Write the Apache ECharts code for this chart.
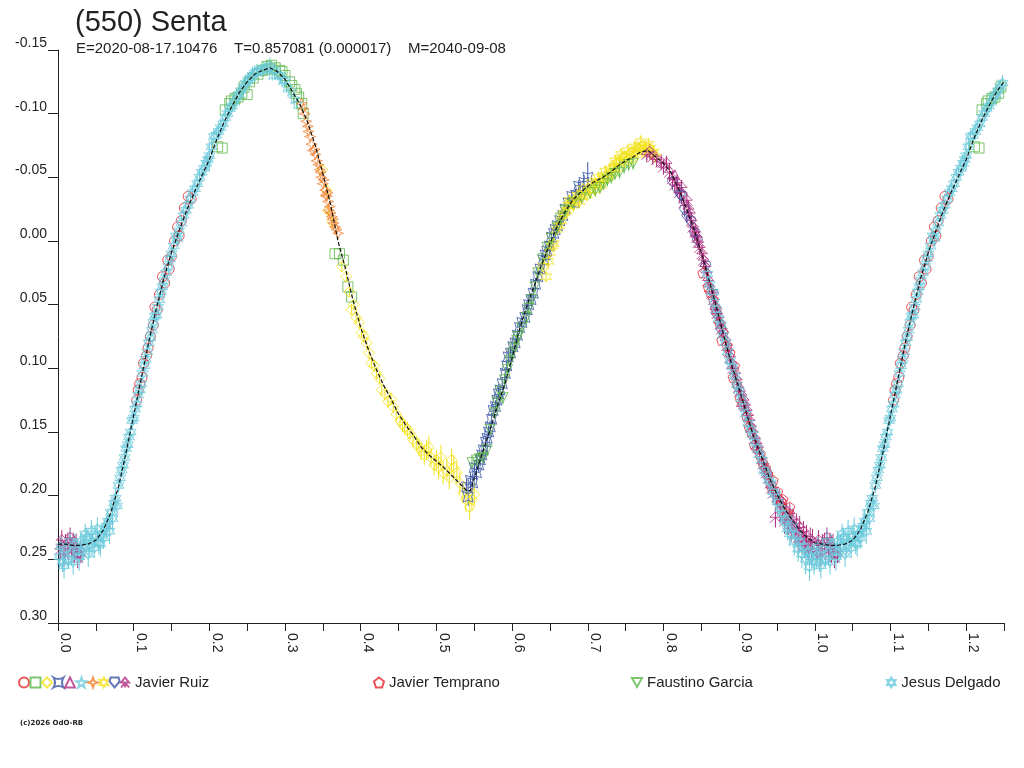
<!DOCTYPE html>
<html>
<head>
<meta charset="utf-8">
<script src="https://cdn.jsdelivr.net/npm/echarts@6/dist/echarts.min.js"></script>
<style>html,body{margin:0;padding:0;background:#fff;}#c{width:1024px;height:768px;}</style>
</head>
<body>
<div id="c"></div>
<script>
// ---- data (phase, magnitude, error) ----
var titleText = '(550) Senta';
var subText = 'E=2020-08-17.10476    T=0.857081 (0.000017)    M=2040-09-08';
var xTicks = [0.0,0.1,0.2,0.3,0.4,0.5,0.6,0.7,0.8,0.9,1.0,1.1,1.2];

var fitCurve = [
[0.00,0.238],[0.01,0.238],[0.02,0.239],[0.03,0.239],[0.04,0.238],[0.05,0.235],[0.06,0.227],[0.07,0.213],[0.08,0.193],[0.09,0.166],
[0.10,0.137],[0.11,0.108],[0.12,0.079],[0.13,0.053],[0.14,0.029],[0.15,0.009],[0.16,-0.008],[0.17,-0.024],[0.18,-0.038],[0.19,-0.051],
[0.20,-0.064],[0.21,-0.080],[0.22,-0.094],[0.23,-0.106],[0.24,-0.117],[0.25,-0.125],[0.26,-0.131],[0.27,-0.134],[0.28,-0.136],[0.29,-0.133],
[0.30,-0.127],[0.31,-0.117],[0.32,-0.107],[0.33,-0.093],[0.34,-0.075],[0.35,-0.053],[0.36,-0.029],[0.37,0.000],[0.38,0.022],[0.39,0.047],
[0.40,0.068],[0.41,0.085],[0.42,0.100],[0.43,0.113],[0.44,0.124],[0.45,0.136],[0.46,0.145],[0.47,0.153],[0.48,0.162],[0.49,0.168],
[0.50,0.173],[0.51,0.178],[0.52,0.184],[0.53,0.190],[0.54,0.196],[0.545,0.196],[0.55,0.186],[0.56,0.168],[0.57,0.150],[0.58,0.131],[0.59,0.113],
[0.60,0.092],[0.61,0.069],[0.62,0.050],[0.63,0.034],[0.64,0.017],[0.65,0.002],[0.66,-0.012],[0.67,-0.023],[0.68,-0.032],[0.69,-0.038],
[0.70,-0.043],[0.71,-0.047],[0.72,-0.050],[0.73,-0.054],[0.74,-0.059],[0.75,-0.063],[0.76,-0.066],[0.77,-0.070],[0.78,-0.071],[0.79,-0.066],
[0.80,-0.061],[0.81,-0.054],[0.82,-0.041],[0.83,-0.026],[0.84,-0.010],[0.85,0.009],[0.86,0.030],[0.87,0.052],[0.88,0.075],[0.89,0.097],
[0.90,0.116],[0.91,0.136],[0.92,0.155],[0.93,0.170],[0.94,0.186],[0.95,0.199],[0.96,0.210],[0.97,0.219],[0.98,0.227],[0.99,0.233],[1.00,0.237]
];

var jrRed = [[0.104,0.125],[0.106,0.117],[0.108,0.112],[0.111,0.107],[0.113,0.096],[0.117,0.090],[0.119,0.084],[0.122,0.075],[0.126,0.066],
[0.128,0.052],[0.131,0.054],[0.134,0.042],[0.138,0.028],[0.141,0.033],[0.145,0.015],[0.147,0.022],[0.150,0.012],[0.154,0.000],[0.158,-0.011],
[0.160,-0.004],[0.163,-0.016],[0.167,-0.026],[0.172,-0.035],[0.176,-0.033]];

var jrGreen = [[0.211,-0.074],[0.217,-0.073],[0.221,-0.103],[0.227,-0.108],[0.229,-0.110],[0.234,-0.112],[0.238,-0.113],[0.243,-0.116],
[0.246,-0.121],[0.250,-0.115],[0.253,-0.125],[0.258,-0.128],[0.264,-0.131],[0.270,-0.134],[0.276,-0.137],[0.279,-0.135],[0.282,-0.138],
[0.287,-0.136],[0.293,-0.134],[0.296,-0.133],[0.300,-0.130],[0.306,-0.125],[0.309,-0.122],[0.313,-0.119],[0.315,-0.116],[0.318,-0.113],
[0.322,-0.108],[0.324,-0.100],[0.366,0.010],[0.372,0.010],[0.377,0.015],[0.383,0.036],[0.388,0.044]];

var jrYellowDiamond = [[0.349,-0.056,0.004],[0.355,-0.040,0.004],[0.357,-0.024,0.004],[0.362,-0.015,0.004],[0.375,0.020,0.004],[0.381,0.028,0.004],
[0.385,0.040,0.004],[0.388,0.054,0.004],[0.391,0.050,0.004],[0.394,0.060,0.005],[0.398,0.064,0.005],[0.401,0.072,0.004],[0.404,0.075,0.005],
[0.408,0.080,0.005],[0.411,0.088,0.005],[0.414,0.096,0.004],[0.418,0.098,0.005],[0.421,0.104,0.005],[0.425,0.108,0.005],[0.428,0.117,0.005],
[0.432,0.120,0.005],[0.436,0.126,0.005],[0.440,0.124,0.005],[0.443,0.130,0.005],[0.447,0.136,0.006],[0.452,0.141,0.005],[0.455,0.144,0.006],
[0.458,0.146,0.006],[0.462,0.148,0.006],[0.465,0.151,0.006],[0.469,0.156,0.006],[0.474,0.159,0.006],[0.477,0.162,0.007],[0.480,0.165,0.007],
[0.484,0.168,0.008],[0.487,0.164,0.008],[0.490,0.162,0.009],[0.493,0.170,0.007],[0.497,0.176,0.008],[0.500,0.172,0.008],[0.503,0.178,0.009],
[0.506,0.170,0.010],[0.509,0.182,0.009],[0.514,0.180,0.008],[0.517,0.186,0.009],[0.520,0.172,0.009],[0.523,0.178,0.010],[0.527,0.182,0.009],
[0.531,0.190,0.009],[0.535,0.198,0.008],[0.539,0.203,0.010],[0.544,0.209,0.010],[0.547,0.203,0.009],[0.550,0.199,0.009]];

var jrBlue = [[0.540,0.193,0.006],[0.542,0.201,0.007],[0.545,0.188,0.006],[0.548,0.190,0.006],[0.550,0.178,0.006],[0.553,0.182,0.006],
[0.556,0.176,0.005],[0.558,0.172,0.005],[0.560,0.168,0.005],[0.562,0.164,0.005],[0.565,0.158,0.005],[0.567,0.155,0.005],[0.569,0.150,0.005],
[0.571,0.146,0.005],[0.573,0.140,0.005],[0.575,0.133,0.005],[0.578,0.130,0.005],[0.580,0.125,0.005],[0.582,0.120,0.005],[0.584,0.117,0.005],
[0.587,0.112,0.005],[0.591,0.104,0.005],[0.593,0.098,0.005],[0.595,0.091,0.005],[0.598,0.088,0.005],[0.601,0.083,0.005],[0.604,0.080,0.005],
[0.607,0.074,0.005],[0.610,0.068,0.005],[0.613,0.064,0.005],[0.617,0.060,0.005],[0.620,0.054,0.005],[0.622,0.050,0.005],[0.625,0.046,0.005],
[0.628,0.041,0.005],[0.631,0.034,0.005],[0.634,0.028,0.005],[0.637,0.022,0.005],[0.641,0.015,0.005],[0.644,0.011,0.005],[0.646,0.008,0.005],
[0.649,0.004,0.005],[0.652,-0.003,0.005],[0.655,-0.006,0.005],[0.657,-0.009,0.005],[0.660,-0.012,0.005],[0.663,-0.016,0.005],[0.667,-0.020,0.005],
[0.670,-0.025,0.005],[0.674,-0.030,0.005],[0.679,-0.035,0.005],[0.682,-0.030,0.005],[0.684,-0.036,0.005],[0.688,-0.043,0.005],[0.690,-0.040,0.005],
[0.695,-0.046,0.006],[0.700,-0.050,0.012]];

var jrPurpleTri = [[0.815,-0.052],[0.842,-0.008],[0.868,0.050],[0.903,0.126],[0.938,0.180],[0.960,0.215]];

var jrCyanStar = [[0.283,-0.131,0.005],[0.290,-0.131,0.005],[0.296,-0.127,0.005],[0.302,-0.121,0.005],[0.308,-0.118,0.005],[0.312,-0.112,0.005],[0.316,-0.108,0.005]];

var jrOrange = [[0.322,-0.108],[0.324,-0.104],[0.326,-0.100],[0.328,-0.094],[0.330,-0.090],[0.331,-0.086],[0.333,-0.082],[0.335,-0.076],
[0.337,-0.071],[0.339,-0.072],[0.340,-0.068],[0.342,-0.063],[0.344,-0.060],[0.346,-0.056],[0.347,-0.054],[0.348,-0.050],[0.350,-0.045],
[0.351,-0.048],[0.353,-0.040],[0.354,-0.036],[0.355,-0.035],[0.356,-0.038],[0.357,-0.031],[0.358,-0.024],[0.359,-0.027],[0.360,-0.022],
[0.362,-0.019],[0.363,-0.017],[0.364,-0.014],[0.366,-0.011],[0.368,-0.009],[0.370,-0.006]];

var jrYellowStar = [[0.641,0.020,0.004],[0.645,0.028,0.004],[0.648,0.016,0.005],[0.650,0.009,0.004],[0.653,0.004,0.004],[0.655,0.002,0.004],
[0.659,-0.009,0.004],[0.662,-0.012,0.005],[0.665,-0.016,0.004],[0.667,-0.020,0.004],[0.669,-0.022,0.004],[0.672,-0.024,0.005],[0.674,-0.028,0.005],
[0.676,-0.032,0.004],[0.678,-0.030,0.004],[0.681,-0.028,0.005],[0.683,-0.032,0.005],[0.686,-0.036,0.004],[0.689,-0.031,0.005],[0.691,-0.035,0.004],
[0.694,-0.041,0.004],[0.696,-0.038,0.005],[0.699,-0.036,0.005],[0.702,-0.040,0.004],[0.705,-0.046,0.004],[0.707,-0.043,0.005],[0.709,-0.040,0.005],
[0.711,-0.045,0.004],[0.714,-0.050,0.004],[0.716,-0.047,0.005],[0.718,-0.044,0.005],[0.720,-0.049,0.004],[0.723,-0.055,0.004],[0.725,-0.052,0.005],
[0.727,-0.050,0.005],[0.729,-0.056,0.004],[0.732,-0.053,0.004],[0.734,-0.058,0.005],[0.736,-0.063,0.005],[0.738,-0.061,0.004],[0.740,-0.057,0.004],
[0.742,-0.063,0.005],[0.744,-0.068,0.005],[0.746,-0.066,0.004],[0.749,-0.062,0.004],[0.751,-0.066,0.005],[0.753,-0.071,0.005],[0.755,-0.068,0.004],
[0.758,-0.064,0.004],[0.760,-0.070,0.005],[0.762,-0.074,0.005],[0.764,-0.071,0.004],[0.766,-0.068,0.004],[0.768,-0.073,0.005],[0.770,-0.078,0.005],
[0.772,-0.075,0.004],[0.775,-0.070,0.004],[0.777,-0.073,0.005],[0.780,-0.076,0.005],[0.782,-0.073,0.004],[0.785,-0.069,0.005],[0.787,-0.070,0.004],
[0.789,-0.066,0.004]];

var jrBlueHex = [[0.812,-0.046,0.005],[0.818,-0.040,0.005],[0.822,-0.036,0.005],[0.824,-0.035,0.006],[0.828,-0.024,0.005],[0.831,-0.019,0.005],
[0.836,-0.015,0.005],[0.841,-0.006,0.005],[0.845,0.000,0.005],[0.856,0.020,0.005],[0.866,0.042,0.005],[0.870,0.058,0.005],[0.876,0.070,0.005]];

var jrPurple = [[0.003,0.242,0.009],[0.005,0.235,0.008],[0.008,0.246,0.010],[0.010,0.239,0.009],[0.013,0.237,0.008],[0.016,0.233,0.008],
[0.018,0.242,0.009],[0.020,0.238,0.009],[0.022,0.245,0.008],[0.024,0.240,0.010],[0.026,0.248,0.009],[0.030,0.244,0.009],
[0.778,-0.068,0.006],[0.782,-0.070,0.006],[0.786,-0.066,0.006],[0.791,-0.064,0.006],[0.797,-0.062,0.006],[0.800,-0.058,0.006],[0.804,-0.061,0.006],
[0.808,-0.054,0.007],[0.812,-0.049,0.006],[0.815,-0.044,0.006],[0.818,-0.046,0.006],[0.821,-0.038,0.007],[0.824,-0.042,0.006],[0.827,-0.030,0.006],
[0.831,-0.032,0.006],[0.833,-0.025,0.007],[0.835,-0.022,0.006],[0.837,-0.016,0.006],[0.839,-0.011,0.006],[0.842,-0.007,0.007],[0.844,-0.003,0.006],
[0.846,0.001,0.006],[0.848,0.005,0.006],[0.851,0.010,0.007],[0.853,0.015,0.006],[0.855,0.020,0.006],[0.857,0.025,0.006],[0.859,0.031,0.007],
[0.861,0.036,0.006],[0.864,0.041,0.006],[0.866,0.046,0.007],[0.869,0.052,0.007],[0.871,0.057,0.006],[0.873,0.060,0.006],[0.875,0.065,0.007],
[0.877,0.069,0.007],[0.879,0.072,0.006],[0.882,0.078,0.006],[0.884,0.082,0.007],[0.886,0.086,0.007],[0.888,0.091,0.006],[0.890,0.096,0.006],
[0.892,0.100,0.007],[0.895,0.104,0.007],[0.897,0.109,0.006],[0.899,0.115,0.006],[0.901,0.118,0.007],[0.903,0.121,0.007],[0.906,0.125,0.006],
[0.908,0.129,0.006],[0.910,0.133,0.007],[0.912,0.137,0.007],[0.914,0.141,0.006],[0.916,0.146,0.006],[0.918,0.150,0.007],[0.921,0.155,0.007],
[0.923,0.159,0.007],[0.925,0.162,0.006],[0.927,0.166,0.007],[0.930,0.171,0.007],[0.932,0.175,0.007],[0.934,0.179,0.006],[0.936,0.182,0.008],
[0.939,0.186,0.007],[0.941,0.190,0.007],[0.943,0.194,0.006],[0.945,0.198,0.008],[0.948,0.217,0.008],[0.950,0.201,0.008],[0.953,0.203,0.008],
[0.955,0.207,0.008],[0.958,0.209,0.008],[0.960,0.220,0.010],[0.962,0.212,0.009],[0.965,0.222,0.009],[0.967,0.214,0.008],[0.969,0.226,0.010],
[0.971,0.219,0.009],[0.974,0.229,0.009],[0.976,0.222,0.008],[0.978,0.233,0.010],[0.980,0.225,0.009],[0.983,0.236,0.009],[0.985,0.228,0.008],
[0.987,0.239,0.010],[0.989,0.232,0.009],[0.992,0.242,0.009],[0.994,0.234,0.009],[0.996,0.244,0.010],[0.997,0.236,0.010]];

var jtRed = [[0.852,0.025],[0.859,0.036],[0.862,0.040],[0.866,0.046],[0.870,0.054],[0.874,0.064],[0.877,0.078],[0.879,0.072],[0.884,0.082],
[0.888,0.088],[0.892,0.107],[0.894,0.098],[0.897,0.112],[0.901,0.123],[0.905,0.128],[0.910,0.138],[0.913,0.146],[0.916,0.150],[0.920,0.160],
[0.924,0.163],[0.928,0.168],[0.931,0.174],[0.935,0.178],[0.938,0.183],[0.942,0.192],[0.945,0.188],[0.951,0.197],[0.955,0.204],[0.958,0.203],
[0.963,0.214],[0.967,0.209]];

var fgGreen = [[0.547,0.174,0.005],[0.553,0.172,0.005],[0.557,0.171,0.005],[0.562,0.170,0.005],[0.567,0.164,0.005],[0.571,0.148,0.005],
[0.577,0.135,0.005],[0.580,0.127,0.005],[0.584,0.118,0.005],[0.588,0.123,0.005],[0.590,0.109,0.005],[0.594,0.101,0.005],[0.597,0.094,0.005],
[0.600,0.088,0.005],[0.603,0.084,0.005],[0.606,0.078,0.005],[0.608,0.075,0.005],[0.613,0.068,0.005],[0.619,0.060,0.005],[0.622,0.053,0.005],
[0.626,0.046,0.005],[0.630,0.036,0.005],[0.634,0.025,0.005],[0.640,0.014,0.005],[0.646,0.005,0.005],[0.652,-0.002,0.005],[0.659,-0.011,0.005],
[0.664,-0.018,0.005],[0.670,-0.024,0.005],[0.680,-0.030,0.005],[0.692,-0.034,0.005],[0.703,-0.038,0.005],[0.710,-0.040,0.005],[0.716,-0.042,0.005],
[0.721,-0.045,0.005],[0.726,-0.048,0.005],[0.731,-0.050,0.005],[0.736,-0.053,0.005],[0.742,-0.054,0.005],[0.748,-0.058,0.005],[0.754,-0.060,0.005],
[0.760,-0.061,0.005]];

var jdCyan = [[0.002,0.248,0.010],[0.004,0.240,0.008],[0.006,0.252,0.008],[0.008,0.255,0.010],[0.010,0.242,0.009],[0.014,0.250,0.007],
[0.016,0.236,0.009],[0.018,0.245,0.010],[0.020,0.252,0.010],[0.022,0.238,0.008],[0.026,0.243,0.009],[0.028,0.248,0.011],[0.030,0.236,0.007],
[0.032,0.244,0.009],[0.034,0.240,0.010],[0.036,0.230,0.008],[0.038,0.233,0.008],[0.040,0.246,0.010],[0.042,0.239,0.009],[0.044,0.228,0.009],
[0.046,0.236,0.007],[0.048,0.241,0.008],[0.050,0.232,0.008],[0.052,0.226,0.009],[0.054,0.237,0.009],[0.056,0.238,0.010],[0.058,0.230,0.007],
[0.060,0.233,0.009],[0.062,0.226,0.008],[0.064,0.224,0.008],[0.066,0.220,0.009],[0.068,0.228,0.010],[0.070,0.213,0.008],[0.072,0.218,0.009],
[0.074,0.206,0.007],[0.076,0.202,0.008],[0.078,0.208,0.009],[0.080,0.192,0.006],[0.082,0.186,0.007],[0.084,0.180,0.006],[0.086,0.176,0.007],
[0.088,0.170,0.007],[0.090,0.163,0.007],[0.092,0.160,0.006],[0.094,0.154,0.006],[0.096,0.150,0.006],[0.098,0.141,0.007],[0.100,0.139,0.006],
[0.102,0.132,0.006],[0.104,0.128,0.005],[0.106,0.121,0.006],[0.108,0.117,0.006],[0.110,0.112,0.007],[0.112,0.104,0.005],[0.114,0.098,0.006],
[0.116,0.093,0.006],[0.118,0.087,0.006],[0.120,0.080,0.005],[0.122,0.076,0.006],[0.124,0.070,0.006],[0.126,0.064,0.007],[0.128,0.059,0.005],
[0.130,0.058,0.006],[0.132,0.052,0.006],[0.134,0.046,0.006],[0.136,0.040,0.005],[0.138,0.036,0.007],[0.140,0.031,0.006],[0.143,0.025,0.006],
[0.146,0.020,0.005],[0.148,0.014,0.006],[0.150,0.010,0.006],[0.153,0.004,0.007],[0.156,-0.004,0.005],[0.158,-0.002,0.006],[0.160,-0.008,0.006],
[0.163,-0.014,0.006],[0.166,-0.020,0.005],[0.169,-0.024,0.007],[0.172,-0.028,0.006],[0.175,-0.033,0.006],[0.178,-0.038,0.005],[0.181,-0.041,0.006],
[0.184,-0.045,0.006],[0.187,-0.050,0.007],[0.190,-0.054,0.005],[0.193,-0.057,0.006],[0.196,-0.061,0.006],[0.198,-0.064,0.006],[0.200,-0.067,0.012],
[0.203,-0.074,0.007],[0.206,-0.082,0.005],[0.209,-0.083,0.006],[0.212,-0.086,0.006],[0.215,-0.089,0.006],[0.218,-0.092,0.005],[0.221,-0.097,0.007],
[0.224,-0.100,0.006],[0.227,-0.104,0.006],[0.230,-0.106,0.005],[0.233,-0.109,0.006],[0.236,-0.113,0.006],[0.239,-0.115,0.007],[0.242,-0.118,0.005],
[0.245,-0.121,0.006],[0.248,-0.124,0.006],[0.251,-0.126,0.006],[0.254,-0.128,0.005],[0.257,-0.130,0.007],[0.260,-0.132,0.006],[0.263,-0.133,0.006],
[0.268,-0.134,0.005],[0.272,-0.135,0.006],[0.276,-0.136,0.006],[0.280,-0.137,0.007],[0.286,-0.134,0.006],[0.294,-0.130,0.006],[0.300,-0.126,0.006],
[0.858,0.026,0.006],[0.861,0.034,0.007],[0.864,0.040,0.006],[0.867,0.048,0.007],[0.870,0.054,0.007],[0.873,0.061,0.008],[0.876,0.066,0.006],
[0.879,0.074,0.007],[0.882,0.080,0.007],[0.885,0.087,0.008],[0.888,0.094,0.006],[0.891,0.099,0.007],[0.894,0.106,0.007],[0.897,0.113,0.008],
[0.900,0.118,0.006],[0.903,0.124,0.008],[0.906,0.130,0.007],[0.909,0.136,0.007],[0.912,0.143,0.006],[0.915,0.148,0.008],[0.918,0.152,0.007],
[0.921,0.158,0.008],[0.924,0.163,0.006],[0.927,0.168,0.009],[0.930,0.172,0.007],[0.933,0.180,0.008],[0.936,0.182,0.008],[0.939,0.188,0.009],
[0.942,0.190,0.007],[0.945,0.197,0.010],[0.948,0.199,0.008],[0.951,0.205,0.009],[0.954,0.210,0.007],[0.957,0.214,0.010],[0.960,0.220,0.008],
[0.962,0.218,0.011],[0.964,0.226,0.009],[0.967,0.230,0.010],[0.970,0.224,0.008],[0.973,0.236,0.011],[0.976,0.231,0.009],[0.978,0.242,0.010],
[0.980,0.236,0.008],[0.983,0.246,0.011],[0.986,0.240,0.009],[0.988,0.250,0.012],[0.990,0.244,0.010],[0.993,0.256,0.011],[0.996,0.248,0.009],
[0.997,0.243,0.010],[0.999,0.252,0.010]];

// ---- rendering ----
var FONT = 'Liberation Sans';
var C = {red:'#e8262e', green:'#5cb848', yellow:'#f2e21a', blue:'#3a55a4', purple:'#b0307f', cyan:'#6ccbdc', orange:'#f08232'};
var SYM = {
  astroid:'path://M0,0 Q5,3 10,0 Q7,5 10,10 Q5,7 0,10 Q3,5 0,0 Z',
  star5:'path://M5,0 L6.2,3.6 L10,3.8 L7,6.1 L8.1,10 L5,7.7 L1.9,10 L3,6.1 L0,3.8 L3.8,3.6 Z',
  star4:'path://M5,0 L6.3,3.7 L10,5 L6.3,6.3 L5,10 L3.7,6.3 L0,5 L3.7,3.7 Z',
  star6:'path://M5,0 L6.3,2.8 L9.3,2.5 L7.5,5 L9.3,7.5 L6.3,7.2 L5,10 L3.7,7.2 L0.7,7.5 L2.5,5 L0.7,2.5 L3.7,2.8 Z',
  shield:'path://M1,0 L9,0 L10,4 L5,10 L0,4 Z',
  aries:'path://M5,0 L9,5 L1,5 Z M5,5 L1,10 M5,5 L9,10 M5,5 L5,10',
  pentagon:'path://M5,0 L10,3.8 L8.1,10 L1.9,10 L0,3.8 Z',
  downTri:'path://M0,0 L10,0 L5,9 Z',
  jd:'path://M5,0 L9.3,7.5 L0.7,7.5 Z M5,10 L0.7,2.5 L9.3,2.5 Z'
};

function wrap(arr){
  var out = arr.slice();
  arr.forEach(function(p){ if (p[0] < 0.25) out.push([p[0]+1].concat(p.slice(1))); });
  return out;
}
function curveWrap(arr){
  var out = arr.slice();
  arr.forEach(function(p){ if (p[0] > 0 && p[0] <= 0.25) out.push([p[0]+1, p[1]]); });
  return out;
}

var series = [];
function addSet(name, data, symbol, color, size){
  var d = wrap(data);
  series.push({
    name:name, type:'scatter', data:d, symbol:symbol, symbolSize:size,
    itemStyle:{color:'rgba(0,0,0,0)', borderColor:color, borderWidth:1},
    emphasis:{disabled:true}, z:3
  });
  var withErr = d.filter(function(p){ return p.length > 2; });
  if (withErr.length){
    series.push({
      type:'custom', data:withErr, silent:true, z:2,
      renderItem:function(params, api){
        var x = api.value(0), y = api.value(1), e = api.value(2);
        var a = api.coord([x, y - e]), b = api.coord([x, y + e]);
        return {type:'line', shape:{x1:a[0], y1:a[1], x2:b[0], y2:b[1]}, style:{stroke:color, lineWidth:1}};
      }
    });
  }
}

addSet('jr1', jrRed, 'circle', C.red, 10);
addSet('jr2', jrGreen, 'rect', C.green, 10);
addSet('jr3', jrYellowDiamond, 'diamond', C.yellow, 11);
addSet('jr4', jrBlue, SYM.astroid, C.blue, 10);
addSet('jr5', jrPurpleTri, 'triangle', C.purple, 10);
addSet('jr6', jrCyanStar, SYM.star5, C.cyan, 11);
addSet('jr7', jrOrange, SYM.star4, C.orange, 11);
addSet('jr8', jrYellowStar, SYM.star6, C.yellow, 11);
addSet('jr9', jrBlueHex, SYM.shield, C.blue, 10);
addSet('Javier Ruiz', jrPurple, SYM.aries, C.purple, 11);
addSet('Javier Temprano', jtRed, SYM.pentagon, C.red, 10);
addSet('Faustino Garcia', fgGreen, SYM.downTri, C.green, 10);
addSet('Jesus Delgado', jdCyan, SYM.jd, C.cyan, 11);

series.push({
  type:'line', data:curveWrap(fitCurve), showSymbol:false, silent:true, z:5,
  lineStyle:{color:'#111', width:1.2, type:[4,2]}
});

var legText = {fontFamily:FONT, fontSize:15, color:'#222'};
var legBase = {top:675, itemWidth:10, itemHeight:10, selectedMode:false, textStyle:legText, padding:0};

var chart = echarts.init(document.getElementById('c'), null, {renderer:'canvas'});
chart.setOption({
  animation:false,
  backgroundColor:'#fff',
  title:[
    {text:titleText, left:75, top:8, padding:0, textStyle:{fontFamily:FONT, fontSize:29, fontWeight:'normal', color:'#222'}},
    {text:subText, left:76, top:41, padding:0, textStyle:{fontFamily:FONT, fontSize:15, fontWeight:'normal', color:'#222'}}
  ],
  grid:{left:58, right:20, top:50, bottom:145, containLabel:false},
  xAxis:{
    type:'value', min:0, max:1.25, interval:0.05,
    axisLine:{show:true, onZero:false, lineStyle:{color:'#222', width:1}},
    axisTick:{show:true, length:8, lineStyle:{color:'#222'}},
    splitLine:{show:false},
    axisLabel:{
      rotate:-90, margin:10, verticalAlign:'bottom', fontFamily:FONT, fontSize:14, color:'#222', showMaxLabel:true, showMinLabel:true,
      formatter:function(v){
        for (var i=0;i<xTicks.length;i++){ if (Math.abs(v-xTicks[i])<1e-6) return xTicks[i].toFixed(1); }
        return '';
      }
    }
  },
  yAxis:{
    type:'value', inverse:true, min:-0.15, max:0.30, interval:0.05,
    axisLine:{show:true, onZero:false, lineStyle:{color:'#222', width:1}},
    axisTick:{show:true, length:10, lineStyle:{color:'#222'}},
    splitLine:{show:false},
    axisLabel:{
      margin:11, verticalAlign:'bottom', fontFamily:FONT, fontSize:14, color:'#222',
      formatter:function(v){ if (Math.abs(v)<1e-9) v = 0; return v.toFixed(2); }
    }
  },
  legend:[
    Object.assign({}, legBase, {left:18, itemGap:-0.5,
      data:['jr1','jr2','jr3','jr4','jr5','jr6','jr7','jr8','jr9','Javier Ruiz'],
      formatter:function(n){ return n === 'Javier Ruiz' ? n : ''; }}),
    Object.assign({}, legBase, {left:373, data:['Javier Temprano']}),
    Object.assign({}, legBase, {left:631, data:['Faustino Garcia']}),
    Object.assign({}, legBase, {left:886, data:['Jesus Delgado']})
  ],
  graphic:[
    {type:'text', left:20, top:720, style:{text:'(c)2026 OdO-RB', font:'bold 7px "DejaVu Sans"', fill:'#222'}}
  ],
  series:series
});
</script>
</body>
</html>
